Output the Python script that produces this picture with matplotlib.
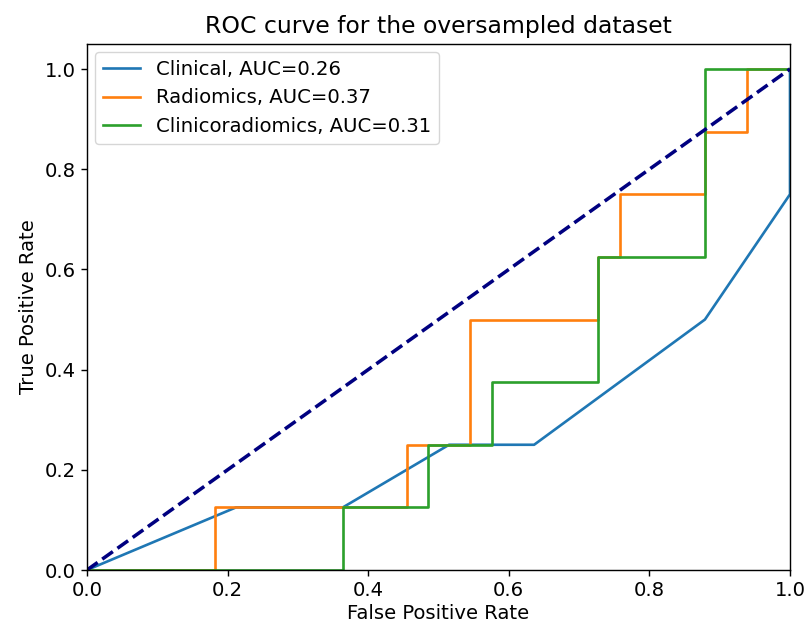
import matplotlib
matplotlib.use("Agg")
import matplotlib.pyplot as plt

# Clinical ROC
clin_fpr = [0.0, 0.212, 0.364, 0.515, 0.636, 0.879, 1.0, 1.0]
clin_tpr = [0.0, 0.125, 0.125, 0.25, 0.25, 0.5, 0.75, 1.0]
clin_auc = 0.26

# Radiomics ROC
rad_fpr = [0.0, 0.182, 0.182, 0.455, 0.455, 0.545, 0.545, 0.727, 0.727, 0.758, 0.758, 0.879, 0.879, 0.939, 0.939, 1.0]
rad_tpr = [0.0, 0.0, 0.125, 0.125, 0.25, 0.25, 0.5, 0.5, 0.625, 0.625, 0.75, 0.75, 0.875, 0.875, 1.0, 1.0]
rad_auc = 0.37

# Clinicoradiomics ROC
cr_fpr = [0.0, 0.364, 0.364, 0.485, 0.485, 0.576, 0.576, 0.727, 0.727, 0.879, 0.879, 1.0]
cr_tpr = [0.0, 0.0, 0.125, 0.125, 0.25, 0.25, 0.375, 0.375, 0.625, 0.625, 1.0, 1.0]
cr_auc = 0.31

s = 1.27
f = 1.41
fig = plt.figure(figsize=(8.1, 6.3), dpi=100)
ax = fig.add_axes([87/810, 1-570/630, (790-87)/810, (570-44)/630])

ax.plot(clin_fpr, clin_tpr, lw=1.5*s, label=f"Clinical, AUC={clin_auc:.2f}")
ax.plot(rad_fpr, rad_tpr, lw=1.5*s, label=f"Radiomics, AUC={rad_auc:.2f}")
ax.plot(cr_fpr, cr_tpr, lw=1.5*s, label=f"Clinicoradiomics, AUC={cr_auc:.2f}")
ax.plot([0, 1], [0, 1], color="navy", lw=2*s, linestyle="--")

ax.set_xlim(0.0, 1.0)
ax.set_ylim(0.0, 1.05)
ax.set_xlabel("False Positive Rate", fontsize=10*f, labelpad=3)
ax.set_ylabel("True Positive Rate", fontsize=10*f, labelpad=5)
ax.set_title("ROC curve for the oversampled dataset", fontsize=12*f, pad=6*s)
ax.tick_params(labelsize=10*f, length=3.5*s, width=0.8*s)
for sp in ax.spines.values():
    sp.set_linewidth(0.8*s)
ax.legend(loc="upper left", fontsize=10*f, borderaxespad=0.4, handlelength=1.9)

fig.savefig("out.png", dpi=100)
